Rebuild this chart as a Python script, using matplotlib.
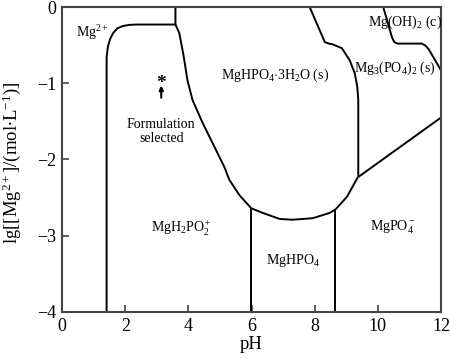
import matplotlib
matplotlib.use("Agg")
import matplotlib.pyplot as plt

plt.rcParams['font.family'] = ['Liberation Serif', 'DejaVu Serif']
plt.rcParams['mathtext.fontset'] = 'custom'
plt.rcParams['mathtext.rm'] = 'Liberation Serif'
plt.rcParams['mathtext.it'] = 'Liberation Serif:italic'
plt.rcParams['mathtext.bf'] = 'Liberation Serif:bold'

# Boundary curves (pH, lg[Mg])
mg2_pH = [1.41, 1.41, 1.45, 1.52, 1.62, 1.75, 1.92, 2.12, 2.35, 3.59, 3.59]
mg2_lg = [-4.0, -0.66, -0.52, -0.42, -0.34, -0.28, -0.25, -0.235, -0.23, -0.23, 0.0]

hydr_pH = [3.59, 3.71, 3.84, 3.97, 4.13, 4.45, 4.76, 5.14, 5.30, 5.62, 5.99,
           6.35, 6.89, 7.30, 7.94, 8.48, 8.67, 9.02, 9.37]
hydr_lg = [-0.23, -0.34, -0.62, -0.96, -1.22, -1.52, -1.78, -2.10, -2.27, -2.47, -2.64,
           -2.70, -2.78, -2.79, -2.77, -2.70, -2.65, -2.49, -2.23]

mg3_pH = [7.84, 8.32, 8.45, 8.57, 8.86, 9.11, 9.27, 9.35, 9.38, 9.38]
mg3_lg = [0.0, -0.46, -0.48, -0.49, -0.54, -0.70, -0.87, -1.05, -1.22, -2.23]

diag_pH = [9.38, 12.0]
diag_lg = [-2.23, -1.45]

oh_pH = [10.17, 10.45, 10.52, 10.62, 11.39, 11.52, 11.62, 12.0]
oh_lg = [0.0, -0.40, -0.46, -0.48, -0.48, -0.51, -0.56, -0.83]

v6_pH = [5.99, 5.99]
v6_lg = [-4.0, -2.64]
v86_pH = [8.65, 8.65]
v86_lg = [-4.0, -2.65]

labels = [
    (0.95, -0.34, r'Mg$^{2+}$'),
    (6.73, -0.90, r'MgHPO$_4$$\cdot$3H$_2$O (s)'),
    (10.54, -0.80, r'Mg$_3$(PO$_4$)$_2$ (s)'),
    (10.86, -0.20, r'Mg(OH)$_2$ (c)'),
    (3.77, -2.90, r'MgH$_2$PO$_2^+$'),
    (7.30, -3.32, r'MgHPO$_4$'),
    (10.48, -2.89, r'MgPO$_4^-$'),
]

fig = plt.figure(figsize=(4.5, 3.59), dpi=100)
ax = fig.add_axes([0.138, 0.131, 0.842, 0.8495])

lw = 1.4
for xs, ys in [(mg2_pH, mg2_lg), (hydr_pH, hydr_lg), (mg3_pH, mg3_lg),
               (diag_pH, diag_lg), (oh_pH, oh_lg), (v6_pH, v6_lg), (v86_pH, v86_lg)]:
    ax.plot(xs, ys, color='black', lw=lw, solid_capstyle='butt', solid_joinstyle='round')

for x, y, t in labels:
    ax.text(x, y, t, ha='center', va='center', fontsize=10)

ax.text(3.14, -1.0, '*', ha='center', va='center', fontsize=14, fontweight='bold')
ax.annotate('', xy=(3.14, -1.03), xytext=(3.14, -1.19),
            arrowprops=dict(arrowstyle='-|>', color='black', lw=1.5,
                            mutation_scale=6, shrinkA=0, shrinkB=0))
ax.text(3.14, -1.63, 'Formulation\nselected', ha='center', va='center', fontsize=10,
        linespacing=1.05)

ax.set_xlim(0, 12)
ax.set_ylim(-4, 0)
ax.set_xticks([0, 2, 4, 6, 8, 10, 12])
ax.set_yticks([-4, -3, -2, -1, 0])
ax.set_yticklabels(['\u22124', '\u22123', '\u22122', '\u22121', '0'])
ax.tick_params(direction='in', length=5, width=1.2, labelsize=13, color='#444444', pad=4)
for s in ax.spines.values():
    s.set_linewidth(1.5)
    s.set_color('#444444')
ax.set_xlabel('pH', fontsize=13.5, labelpad=1)
ax.set_ylabel(r'lg[[Mg$^{2+}$]/(mol$\bullet$L$^{-1}$)]', fontsize=13.5)
ax.yaxis.set_label_coords(-0.102, 0.49)

fig.savefig('out.png', dpi=100)
